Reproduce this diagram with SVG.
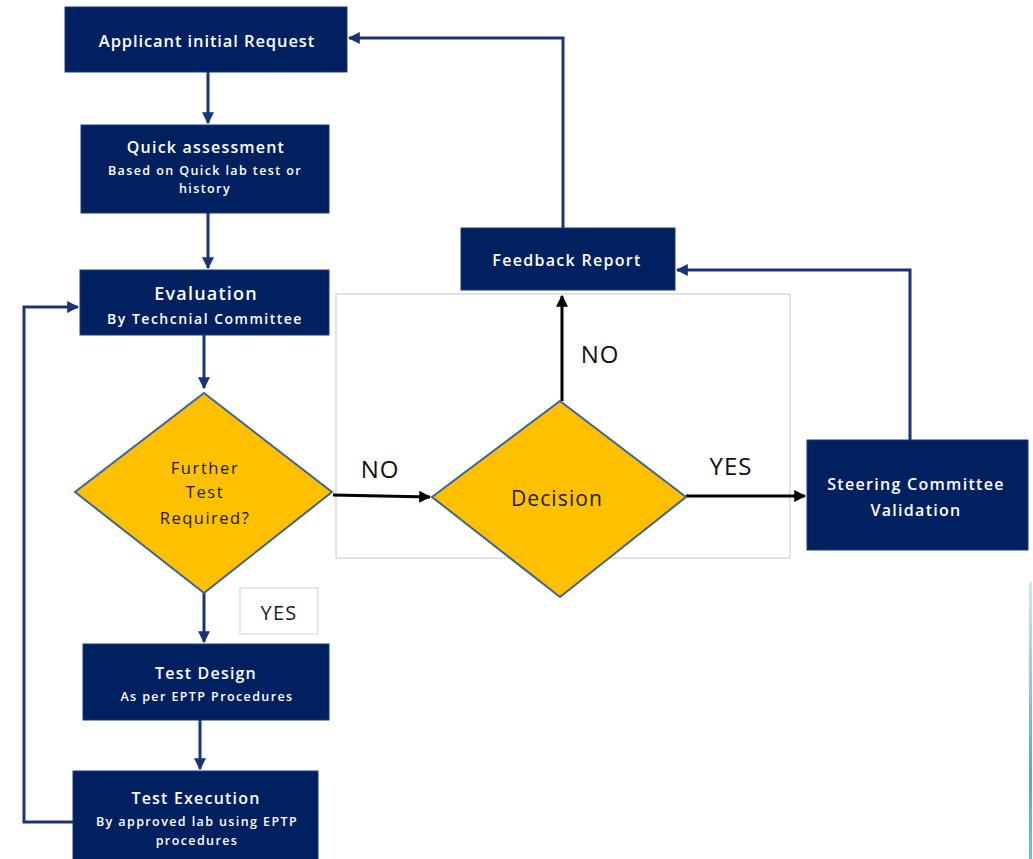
<svg xmlns="http://www.w3.org/2000/svg" width="1033" height="859" viewBox="0 0 1033 859">
<defs>
<style>
.box{fill:#002060;stroke:#1f3a78;stroke-width:1}
.dia{fill:#FFC000;stroke:#41638f;stroke-width:2}
.t{font-family:"Open Sans",Lato,"Liberation Sans",sans-serif;fill:#ffffff;text-anchor:middle;font-weight:600}
.h{font-size:16px;letter-spacing:1.2px}
.s{font-size:12.5px;letter-spacing:1.4px}
.d{font-family:"Open Sans",Lato,"Liberation Sans",sans-serif;fill:#1a1a1a;text-anchor:middle}
.lbl{font-family:"Open Sans",Lato,"Liberation Sans",sans-serif;fill:#111111;font-size:24px;text-anchor:middle;letter-spacing:1px}
.nv{fill:none;stroke:#1a3473;stroke-width:3}
.bk{fill:none;stroke:#000000;stroke-width:3}
</style>
<marker id="an" viewBox="0 0 10 10" refX="9" refY="5" markerWidth="4" markerHeight="4" orient="auto-start-reverse" markerUnits="strokeWidth"><path d="M0,0 L10,5 L0,10 z" fill="#1a3473"/></marker>
<marker id="ab" viewBox="0 0 10 10" refX="9" refY="5" markerWidth="4" markerHeight="4" orient="auto-start-reverse" markerUnits="strokeWidth"><path d="M0,0 L10,5 L0,10 z" fill="#000000"/></marker>
<linearGradient id="lb" x1="0" y1="0" x2="0" y2="1"><stop offset="0" stop-color="#cfe8ee"/><stop offset="0.7" stop-color="#5aa9c0"/><stop offset="1" stop-color="#7bbccf"/></linearGradient>
</defs>
<rect width="1033" height="859" fill="#ffffff"/>
<rect id="frame" x="336" y="294" width="454" height="264" fill="none" stroke="#c8c8c8" stroke-width="1"/>
<rect x="1029" y="582" width="3" height="277" fill="url(#lb)"/>
<g id="connectors">
<path class="nv" d="M208,72 V123" marker-end="url(#an)"/>
<path class="nv" d="M208,213 V268" marker-end="url(#an)"/>
<path class="nv" d="M204,335 V388" marker-end="url(#an)"/>
<path class="nv" d="M204,593 V642" marker-end="url(#an)"/>
<path class="nv" d="M200,720 V769" marker-end="url(#an)"/>
<path class="nv" d="M73,822 H24 V307 H78" marker-end="url(#an)"/>
<path class="nv" d="M563,228 V38 H349" marker-end="url(#an)"/>
<path class="nv" d="M910,440 V270 H677" marker-end="url(#an)"/>
<path class="bk" d="M333,495 L430,497" marker-end="url(#ab)"/>
<path class="bk" d="M562,401 V296" marker-end="url(#ab)"/>
<path class="bk" d="M686,496 H805" marker-end="url(#ab)"/>
</g>
<g id="applicant"><rect class="box" x="65" y="7" width="282" height="65"/><text class="t" x="207" y="47" font-size="16.5" letter-spacing="0.9">Applicant initial Request</text></g>
<g id="quick"><rect class="box" x="81" y="125" width="248" height="88"/><text class="t h" x="206" y="153">Quick assessment</text><text class="t s" x="205" y="175">Based on Quick lab test or</text><text class="t s" x="205" y="193">history</text></g>
<g id="evaluation"><rect class="box" x="80" y="270" width="249" height="65"/><text class="t" x="206" y="300" font-size="18" letter-spacing="1.2">Evaluation</text><text class="t" x="205" y="324" font-size="14" letter-spacing="1.5">By Techcnial Committee</text></g>
<g id="further"><polygon class="dia" points="204,393 332,492 204,593 75,492"/><text class="d" x="205" y="474" font-size="16.5" letter-spacing="1.6">Further</text><text class="d" x="205" y="498" font-size="16.5" letter-spacing="1.6">Test</text><text class="d" x="205" y="524" font-size="16.5" letter-spacing="1.5">Required?</text></g>
<g id="yes-box"><rect x="240" y="588" width="78" height="46" fill="#ffffff" stroke="#d0d0d0" stroke-width="1"/><text class="d" x="279" y="620" font-size="20" letter-spacing="1.2">YES</text></g>
<g id="test-design"><rect class="box" x="83" y="644" width="246" height="76"/><text class="t h" x="206" y="679">Test Design</text><text class="t s" x="207" y="701" letter-spacing="1.6">As per EPTP Procedures</text></g>
<g id="test-execution"><rect class="box" x="73" y="771" width="245" height="92"/><text class="t h" x="196" y="804">Test Execution</text><text class="t s" x="197" y="826" letter-spacing="1.6">By approved lab using EPTP</text><text class="t s" x="197" y="845" letter-spacing="1.6">procedures</text></g>
<g id="feedback"><rect class="box" x="461" y="228" width="214" height="62"/><text class="t" x="567" y="266" font-size="16" letter-spacing="1.3">Feedback Report</text></g>
<g id="decision"><polygon class="dia" points="560,401 686,497 560,597 432,497"/><text class="d" x="557" y="506" font-size="21" letter-spacing="1.1">Decision</text></g>
<g id="steering"><rect class="box" x="807" y="440" width="221" height="110"/><text class="t" x="916" y="490" font-size="16" letter-spacing="1.3">Steering Committee</text><text class="t" x="916" y="516" font-size="16" letter-spacing="1.3">Validation</text></g>
<g id="labels"><text class="lbl" x="380" y="478">NO</text><text class="lbl" x="600" y="363">NO</text><text class="lbl" x="731" y="475" letter-spacing="1.5">YES</text></g>
</svg>
